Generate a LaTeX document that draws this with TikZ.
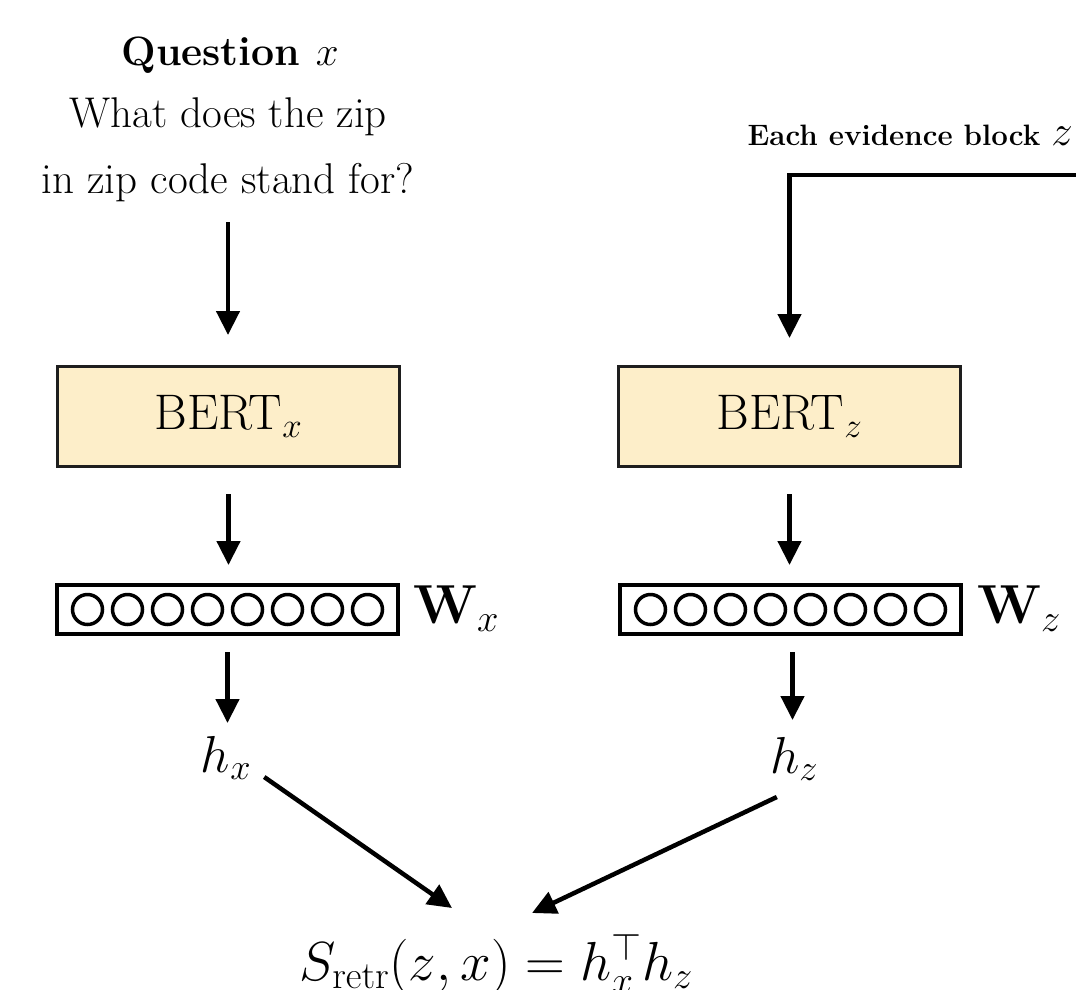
\documentclass[tikz,border=0pt]{standalone}
\usepackage{fix-cm}
\usetikzlibrary{arrows.meta,calc}
\definecolor{bertfill}{RGB}{253,238,201}
\definecolor{edgecol}{RGB}{30,30,30}
\begin{document}
\begin{tikzpicture}[x=1pt,y=-1pt,
  arr/.style={line width=4.5pt, draw=black, line join=miter, -{Triangle[length=24pt,width=23pt]}},
  bertbox/.style={draw=edgecol, line width=3pt, fill=bertfill, minimum width=342pt, minimum height=100pt, inner sep=0pt, font=\fontsize{50}{60}\selectfont},
  vecbox/.style={draw=black, line width=4pt, minimum width=341pt, minimum height=49pt, inner sep=0pt},
  unitc/.style={circle, draw=black, line width=3.5pt, minimum size=30pt, inner sep=0pt},
  lbl/.style={inner sep=0pt, anchor=base}
]
\useasboundingbox (0,0) rectangle (1076,989);

% question side
\node[lbl, font=\bfseries\fontsize{41}{49}\selectfont] (qtitle) at (230,65) {Question $x$};
\node[lbl, font=\fontsize{43}{52}\selectfont] (qline1) at (228,127) {What does the zip};
\node[lbl, font=\fontsize{43}{52}\selectfont] (qline2) at (228,193) {in zip code stand for?};

% evidence side
\node[lbl, anchor=base east] (zlabel) at (1073,145) {\bfseries\fontsize{29.5}{35}\selectfont Each evidence block \fontsize{43}{50}\selectfont$z$};
\coordinate (zin) at (1082,175);

% BERT boxes
\node[bertbox] (bertx) at (228.5,416.5) {BERT$_x$};
\node[bertbox] (bertz) at (789.5,416.5) {BERT$_z$};

% vector boxes
\node[vecbox] (vecx) at (227.5,609.5) {};
\node[vecbox] (vecz) at (790.5,609.5) {};
\foreach \i in {0,...,7} {
  \node[unitc] (cx\i) at ($(vecx.center)+({(\i-3.5)*40},0)$) {};
  \node[unitc] (cz\i) at ($(vecz.center)+({(\i-3.5)*40},0)$) {};
}
\node[lbl, anchor=base west, font=\fontsize{55}{66}\selectfont] (wx) at (413,623) {$\mathbf{W}_x$};
\node[lbl, anchor=base west, font=\fontsize{55}{66}\selectfont] (wz) at (977,623) {$\mathbf{W}_z$};

% outputs
\node[lbl, font=\fontsize{52}{62}\selectfont] (hx) at (226,772) {$h_x$};
\node[lbl, font=\fontsize{52}{62}\selectfont] (hz) at (794,773) {$h_z$};
\node[lbl, font=\fontsize{55}{66}\selectfont] (score) at (496,980) {$S_{\mathrm{retr}}(z,x) = h_x^{\top} h_z$};

% connectors
\draw[arr] ($(qline2.base)+(0,29)$) -- ($(qline2.base |- bertx.north)+(0,-30)$);
\draw[arr] (zin) -| ($(bertz.north)+(0,-27)$);
\draw[arr, shorten <=26pt, shorten >=18pt] (bertx.south) -- (bertx.south |- vecx.north);
\draw[arr, shorten <=26pt, shorten >=18pt] (bertz.south) -- (bertz.south |- vecz.north);
\draw[arr, shorten <=16pt] (vecx.south) -- ($(vecx.south |- hx.base)+(0,-49)$);
\draw[arr, shorten <=16pt] ($(vecz.south)+(2,0)$) -- ($(vecz.south |- hz.base)+(2,-53)$);
\draw[arr] ($(hx.base east)+(13,5)$) -- ($(score.base)+(-44,-72)$);
\draw[arr] ($(hz.base west)+(7,24)$) -- ($(score.base)+(36,-67)$);
\end{tikzpicture}
\end{document}
